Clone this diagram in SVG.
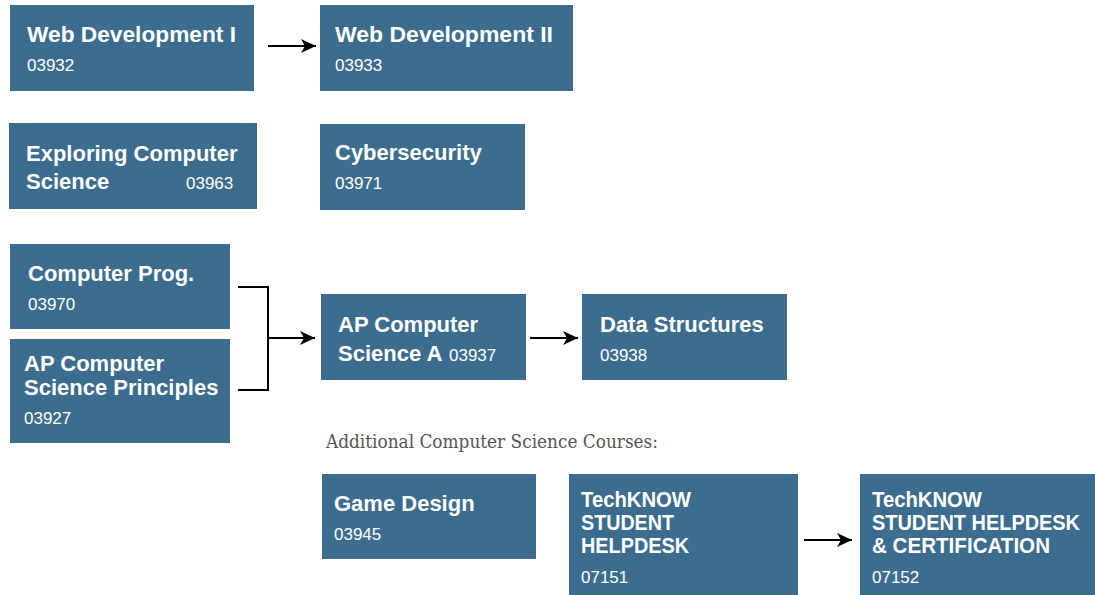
<svg xmlns="http://www.w3.org/2000/svg" width="1095" height="595" viewBox="0 0 1095 595">
<style>
.box{fill:#3c6d8e}
.t{font-family:"Liberation Sans",Arial,sans-serif;font-weight:bold;font-size:22px;fill:#ffffff}
.c{font-family:"Liberation Sans",Arial,sans-serif;font-size:17px;fill:#ffffff}
.note{font-family:"DejaVu Serif Condensed","DejaVu Serif",serif;font-stretch:condensed;font-size:18px;fill:#555555}
.ln{fill:none;stroke:#000000;stroke-width:2}
</style>
<defs>
<marker id="ah" markerUnits="userSpaceOnUse" markerWidth="16" markerHeight="14" refX="15" refY="7" orient="auto">
<path d="M0,0 L15,7 L0,14 L4,7 Z" fill="#000000"/>
</marker>
</defs>
<rect width="1095" height="595" fill="#ffffff"/>

<g id="connectors">
<line class="ln" x1="268" y1="46" x2="316" y2="46" marker-end="url(#ah)"/>
<polyline class="ln" points="238,287 268,287 268,390 238,390"/>
<line class="ln" x1="268" y1="338" x2="315" y2="338" marker-end="url(#ah)"/>
<line class="ln" x1="530" y1="338" x2="578" y2="338" marker-end="url(#ah)"/>
<line class="ln" x1="804" y1="540" x2="852" y2="540" marker-end="url(#ah)"/>
</g>

<g id="webdev1">
<rect class="box" x="10" y="5" width="244" height="86"/>
<text class="t" x="27" y="42" textLength="209" lengthAdjust="spacingAndGlyphs">Web Development I</text>
<text class="c" x="27" y="71">03932</text>
</g>
<g id="webdev2">
<rect class="box" x="320" y="5" width="253" height="86"/>
<text class="t" x="335" y="42" textLength="218" lengthAdjust="spacingAndGlyphs">Web Development II</text>
<text class="c" x="335" y="71">03933</text>
</g>
<g id="ecs">
<rect class="box" x="9" y="123" width="248" height="86"/>
<text class="t" x="26" y="161">Exploring Computer</text>
<text class="t" x="26" y="189">Science</text>
<text class="c" x="186" y="189">03963</text>
</g>
<g id="cyber">
<rect class="box" x="320" y="124" width="205" height="86"/>
<text class="t" x="335" y="160">Cybersecurity</text>
<text class="c" x="335" y="189">03971</text>
</g>
<g id="compprog">
<rect class="box" x="10" y="244" width="220" height="85"/>
<text class="t" x="28" y="281">Computer Prog.</text>
<text class="c" x="28" y="310">03970</text>
</g>
<g id="apcsp">
<rect class="box" x="10" y="339" width="220" height="104"/>
<text class="t" x="24" y="371">AP Computer</text>
<text class="t" x="24" y="395">Science Principles</text>
<text class="c" x="24" y="424">03927</text>
</g>
<g id="apcsa">
<rect class="box" x="321" y="294" width="205" height="86"/>
<text class="t" x="338" y="332">AP Computer</text>
<text class="t" x="338" y="361">Science A</text>
<text class="c" x="449" y="361">03937</text>
</g>
<g id="datastruct">
<rect class="box" x="582" y="294" width="205" height="86"/>
<text class="t" x="600" y="332">Data Structures</text>
<text class="c" x="600" y="361">03938</text>
</g>

<text class="note" x="326" y="448" textLength="332" lengthAdjust="spacingAndGlyphs">Additional Computer Science Courses:</text>

<g id="gamedesign">
<rect class="box" x="322" y="474" width="214" height="85"/>
<text class="t" x="334" y="511">Game Design</text>
<text class="c" x="334" y="540">03945</text>
</g>
<g id="techknow1">
<rect class="box" x="569" y="474" width="229" height="121"/>
<text class="t" x="581" y="507" textLength="110" lengthAdjust="spacingAndGlyphs">TechKNOW</text>
<text class="t" x="581" y="530" textLength="93" lengthAdjust="spacingAndGlyphs">STUDENT</text>
<text class="t" x="581" y="553" textLength="108" lengthAdjust="spacingAndGlyphs">HELPDESK</text>
<text class="c" x="581" y="583">07151</text>
</g>
<g id="techknow2">
<rect class="box" x="860" y="474" width="235" height="121"/>
<text class="t" x="872" y="507" textLength="110" lengthAdjust="spacingAndGlyphs">TechKNOW</text>
<text class="t" x="872" y="530" textLength="208" lengthAdjust="spacingAndGlyphs">STUDENT HELPDESK</text>
<text class="t" x="872" y="553" textLength="178" lengthAdjust="spacingAndGlyphs">&amp; CERTIFICATION</text>
<text class="c" x="872" y="583">07152</text>
</g>
</svg>
